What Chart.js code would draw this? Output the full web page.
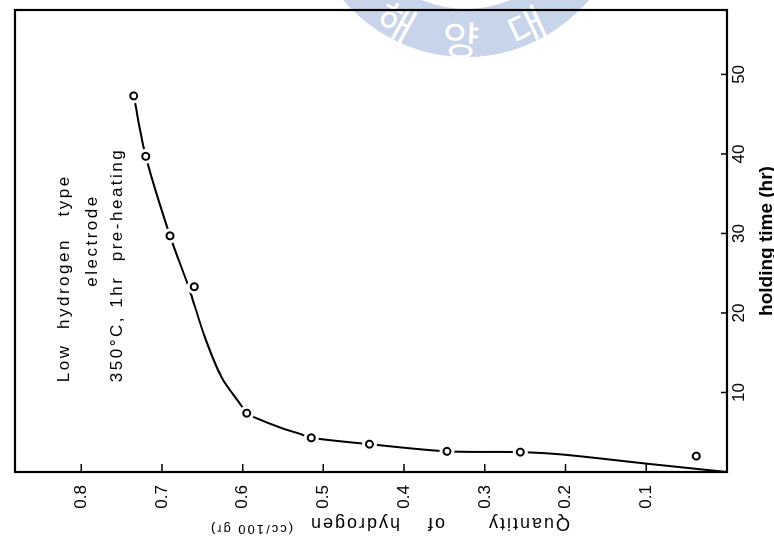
<!DOCTYPE html>
<html>
<head>
<meta charset="utf-8">
<script src="https://cdn.jsdelivr.net/npm/chart.js@4.4.1/dist/chart.umd.min.js"></script>
<style>
html, body { margin: 0; padding: 0; background: #fff; overflow: hidden; }
body { width: 774px; height: 546px; position: relative; }
#seal { position: absolute; left: 0; top: 0; }
/* the figure is printed sideways: draw it upright, then turn it a quarter left */
#wrap { position: absolute; left: 114px; top: -114px; width: 546px; height: 774px; transform: rotate(-90deg); }
</style>
</head>
<body>
<svg id="seal" width="774" height="546"></svg>
<div id="wrap"><canvas id="myChart" width="546" height="774"></canvas></div>
<script>
// measured points
const holdHours = [47.3, 39.7, 29.7, 23.3, 7.4, 4.3, 3.5, 2.6, 2.5, 2.0]
const hydrogen = [0.735, 0.72, 0.69, 0.66, 0.595, 0.515, 0.443, 0.347, 0.256, 0.038]

// hand drawn curve through them
const curveHours = [0, 1.0, 2.2, 2.5, 2.6, 3.5, 4.3, 4.8, 5.5, 6.9, 7.4, 8.4, 11.9, 17.0, 23.3, 29.7, 39.7, 47.3]
const curveHydrogen = [0, 0.095, 0.204, 0.256, 0.347, 0.443, 0.515, 0.529, 0.551, 0.586, 0.595, 0.602, 0.626, 0.647, 0.667, 0.69, 0.72, 0.735]

const hourTicks = [10, 20, 30, 40, 50]
const hydrogenTicks = [0.1, 0.2, 0.3, 0.4, 0.5, 0.6, 0.7, 0.8]

const noteLines = ['Low  hydrogen   type', 'electrode', '350°C, 1hr  pre-heating']
const noteAt = [[11.3, 0.815], [23.3, 0.781], [11.3, 0.750]]

const yTitle = [['Quantity', 0, 18, 0], ['of', 125, 18, 0], ['hydrogen', 170, 18, 0], ['(cc/100 gr)', 277, 13, -7]]

// faint university seal behind the scan
const seal = document.getElementById('seal')
const ns = 'http://www.w3.org/2000/svg'
const cx = 466, cy = -104
let ring = document.createElementNS(ns, 'circle')
ring.setAttribute('cx', cx)
ring.setAttribute('cy', cy)
ring.setAttribute('r', 137)
ring.setAttribute('fill', 'none')
ring.setAttribute('stroke', '#c8d4e9')
ring.setAttribute('stroke-width', 48)
seal.appendChild(ring)
const sealChars = ['국', '해', '양', '대', '학']
const sealAngles = [146, 119, 92, 65, 38]
sealChars.forEach((c, i) => {
  const a = sealAngles[i] * Math.PI / 180
  const x = cx + 142 * Math.cos(a)
  const y = cy + 142 * Math.sin(a)
  let t = document.createElementNS(ns, 'text')
  t.setAttribute('x', x)
  t.setAttribute('y', y)
  t.setAttribute('fill', '#fff')
  t.setAttribute('font-family', 'Noto Sans CJK KR')
  t.setAttribute('font-size', 40)
  t.setAttribute('text-anchor', 'middle')
  t.setAttribute('dominant-baseline', 'central')
  t.setAttribute('transform', 'rotate(' + (sealAngles[i] - 90) + ' ' + x + ' ' + y + ')')
  t.textContent = c
  seal.appendChild(t)
})

const points = holdHours.map((h, i) => ({ x: h, y: hydrogen[i] }))
const curve = curveHours.map((h, i) => ({ x: h, y: curveHydrogen[i] }))

const frame = {
  id: 'frame',
  afterDraw(chart) {
    const { ctx, chartArea: a, scales } = chart
    ctx.save()
    ctx.strokeStyle = '#000'
    ctx.lineWidth = 2.2
    ctx.strokeRect(a.left, a.top, a.right - a.left, a.bottom - a.top)
    // ticks point inwards
    ctx.lineWidth = 1.5
    ctx.beginPath()
    hourTicks.forEach(v => {
      const x = scales.x.getPixelForValue(v)
      ctx.moveTo(x, a.bottom)
      ctx.lineTo(x, a.bottom - 6)
    })
    hydrogenTicks.forEach(v => {
      const y = scales.y.getPixelForValue(v)
      ctx.moveTo(a.left, y)
      ctx.lineTo(a.left + 8, y)
    })
    ctx.stroke()

    ctx.fillStyle = '#000'
    ctx.letterSpacing = '2px'
    ctx.textBaseline = 'alphabetic'
    ctx.textAlign = 'left'
    // left title, mixed sizes
    ctx.save()
    ctx.translate(28, a.bottom - 157)
    ctx.rotate(-Math.PI / 2)
    yTitle.forEach(p => {
      ctx.font = p[2] + 'px "Liberation Sans"'
      ctx.fillText(p[0], p[1], p[3])
    })
    ctx.restore()

    ctx.font = '17px "Liberation Sans"'
    ctx.letterSpacing = '2.5px'
    noteLines.forEach((s, i) => {
      ctx.fillText(s, scales.x.getPixelForValue(noteAt[i][0]), scales.y.getPixelForValue(noteAt[i][1]))
    })
    ctx.restore()
  }
}

const noPad = s => { s.paddingTop = 0; s.paddingBottom = 0; s.paddingLeft = 0; s.paddingRight = 0 }

const tickFont = { family: 'Liberation Sans', size: 17 }

const ctx = document.getElementById('myChart')

const myChart = new Chart(ctx, {
  type: 'scatter',
  data: {
    datasets: [
      { data: points, order: 0, pointRadius: 3.5, pointBorderWidth: 2, pointBackgroundColor: '#fff', pointBorderColor: '#000' },
      { data: points, order: 1, pointRadius: 7.5, pointBorderWidth: 0, pointBackgroundColor: '#fff', pointBorderColor: '#fff' },
      { data: curve, order: 2, showLine: true, borderColor: '#000', borderWidth: 2, pointRadius: 0, tension: 0.3, fill: false }
    ]
  },
  options: {
    responsive: false,
    animation: false,
    devicePixelRatio: 1,
    layout: { autoPadding: false, padding: { top: 15, right: 10, left: 0, bottom: 0 } },
    plugins: { legend: { display: false }, tooltip: { enabled: false } },
    scales: {
      x: {
        type: 'linear', min: 0, max: 58.1,
        grid: { display: false, drawTicks: false },
        border: { display: false },
        afterBuildTicks: s => { s.ticks = hourTicks.map(v => ({ value: v })) },
        afterFit: s => { s.height = 47; noPad(s) },
        ticks: { color: '#000', font: tickFont, padding: 2, maxRotation: 0, autoSkip: false },
        title: {
          display: true, text: 'holding time (hr)', color: '#000',
          font: { family: 'Liberation Sans', size: 19, weight: 'bold', lineHeight: 1 },
          padding: { top: 0, bottom: -2 }
        }
      },
      y: {
        type: 'linear', min: 0, max: 0.882,
        grid: { display: false, drawTicks: false },
        border: { display: false },
        afterBuildTicks: s => { s.ticks = hydrogenTicks.map(v => ({ value: v })) },
        afterFit: s => { s.width = 74; noPad(s) },
        ticks: { color: '#000', font: tickFont, padding: 13, autoSkip: false, callback: v => v.toFixed(1) }
      }
    }
  },
  plugins: [frame]
})
</script>
</body>
</html>
